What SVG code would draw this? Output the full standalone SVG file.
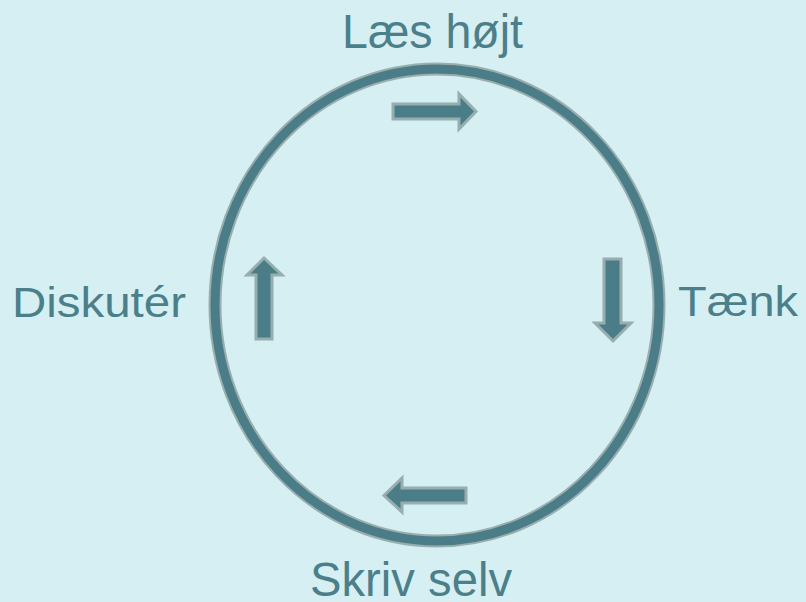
<svg xmlns="http://www.w3.org/2000/svg" width="806" height="602" viewBox="0 0 806 602">
<style>
.lbl{font-family:"Liberation Sans",Arial,sans-serif;fill:#4b7f8a}
.big{font-size:48px}
.side{font-size:42px}
.arr{fill:#4a7d88;stroke:#96aeae;stroke-width:3;stroke-linejoin:miter}
</style>
<rect width="806" height="602" fill="#d6eff2"/>
<g id="cycle">
<ellipse cx="437" cy="305" rx="222" ry="236" fill="none" stroke="#9aaeae" stroke-width="13"/>
<ellipse cx="437" cy="305" rx="222" ry="236" fill="none" stroke="#4a7d88" stroke-width="9"/>
</g>
<g id="connectors">
<polygon class="arr" points="393,104 459,104 459,94 476,111.5 459,129 459,119 393,119"/>
<polygon class="arr" points="604,259 621,259 621,323 631,323 613,341 595,323 604,323"/>
<polygon class="arr" points="256,339 272,339 272,275 282,275 264,258 247,275 256,275"/>
<polygon class="arr" points="466,488 466,503 402,503 402,512 384,495.5 402,478 402,488"/>
</g>
<g id="n1"><text class="lbl big" x="342" y="48" textLength="181" lengthAdjust="spacingAndGlyphs">Læs højt</text></g>
<g id="n2"><text class="lbl side" x="678" y="316" textLength="120" lengthAdjust="spacingAndGlyphs">Tænk</text></g>
<g id="n3"><text class="lbl big" x="310" y="596" textLength="202" lengthAdjust="spacingAndGlyphs">Skriv selv</text></g>
<g id="n4"><text class="lbl side" x="12" y="317" textLength="174" lengthAdjust="spacingAndGlyphs">Diskutér</text></g>
</svg>
